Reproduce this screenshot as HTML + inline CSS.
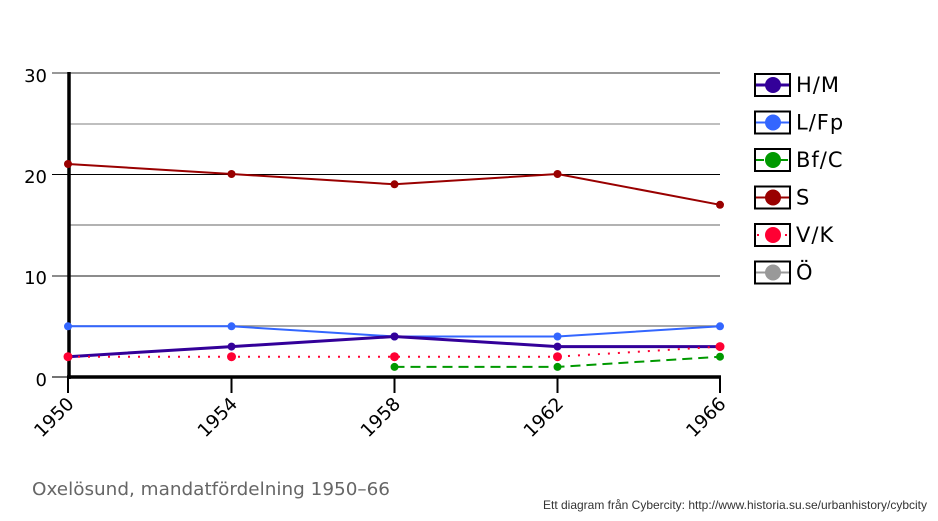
<!DOCTYPE html>
<html><head><meta charset="utf-8"><style>
html,body{margin:0;padding:0;background:#fff;width:938px;height:521px;overflow:hidden}
svg{display:block}
text{font-family:"DejaVu Sans","Liberation Sans",sans-serif}
</style></head><body>
<svg width="938" height="521" viewBox="0 0 938 521" xmlns="http://www.w3.org/2000/svg">
<!-- gridlines -->
<line x1="52" y1="73" x2="720" y2="73" stroke="#777" stroke-width="1.5"/>
<line x1="68" y1="124" x2="720" y2="124" stroke="#aaa" stroke-width="1.5"/>
<line x1="52" y1="174.5" x2="720" y2="174.5" stroke="#000" stroke-width="1"/>
<line x1="68" y1="225" x2="720" y2="225" stroke="#999" stroke-width="1.5"/>
<line x1="52" y1="276" x2="720" y2="276" stroke="#666" stroke-width="1.5"/>
<line x1="68" y1="326" x2="720" y2="326" stroke="#888" stroke-width="1.5"/>
<line x1="52" y1="377" x2="68" y2="377" stroke="#444" stroke-width="1.5"/>
<!-- axes -->
<line x1="69" y1="72" x2="69" y2="379" stroke="#000" stroke-width="3.5"/>
<line x1="67" y1="377" x2="721" y2="377" stroke="#000" stroke-width="3.5"/>
<g stroke="#000" stroke-width="2">
<line x1="68" y1="377" x2="68" y2="393"/>
<line x1="231.5" y1="377" x2="231.5" y2="393"/>
<line x1="394.5" y1="377" x2="394.5" y2="393"/>
<line x1="557.5" y1="377" x2="557.5" y2="393"/>
<line x1="720" y1="377" x2="720" y2="393"/>
</g>
<!-- y labels -->
<g font-size="18" text-anchor="end" fill="#000">
<text x="47" y="82">30</text>
<text x="47" y="183">20</text>
<text x="47" y="284">10</text>
<text x="47" y="386">0</text>
</g>
<!-- x labels -->
<g font-size="18.5" text-anchor="end" fill="#000">
<text transform="translate(75,405) rotate(-45)">1950</text>
<text transform="translate(238.5,405) rotate(-45)">1954</text>
<text transform="translate(401.5,405) rotate(-45)">1958</text>
<text transform="translate(564.5,405) rotate(-45)">1962</text>
<text transform="translate(727,405) rotate(-45)">1966</text>
</g>
<!-- S -->
<polyline points="68,164 231.5,174 394.5,184.3 557.5,174 720,204.8" fill="none" stroke="#990000" stroke-width="2"/>
<g fill="#990000"><circle cx="68" cy="164" r="4"/><circle cx="231.5" cy="174" r="4"/><circle cx="394.5" cy="184.3" r="4"/><circle cx="557.5" cy="174" r="4"/><circle cx="720" cy="204.8" r="4"/></g>
<!-- L/Fp -->
<polyline points="68,326.3 231.5,326.3 394.5,336.5 557.5,336.5 720,326.3" fill="none" stroke="#3366ff" stroke-width="2"/>
<g fill="#3366ff"><circle cx="68" cy="326.3" r="4"/><circle cx="231.5" cy="326.3" r="4"/><circle cx="394.5" cy="336.5" r="4"/><circle cx="557.5" cy="336.5" r="4"/><circle cx="720" cy="326.3" r="4"/></g>
<!-- H/M -->
<polyline points="68,356.7 231.5,346.6 394.5,336.5 557.5,346.6 720,346.6" fill="none" stroke="#330099" stroke-width="3"/>
<g fill="#330099"><circle cx="68" cy="356.7" r="4"/><circle cx="231.5" cy="346.6" r="4"/><circle cx="394.5" cy="336.5" r="4"/><circle cx="557.5" cy="346.6" r="4"/><circle cx="720" cy="346.6" r="4"/></g>
<!-- V/K -->
<polyline points="68,356.7 231.5,356.7 394.5,356.7 557.5,356.7 720,346.6" fill="none" stroke="#ff0033" stroke-width="2" stroke-dasharray="2,8"/>
<g fill="#ff0033"><circle cx="68" cy="356.7" r="4.5"/><circle cx="231.5" cy="356.7" r="4.5"/><circle cx="394.5" cy="356.7" r="4.5"/><circle cx="557.5" cy="356.7" r="4.5"/><circle cx="720" cy="346.6" r="4.5"/></g>
<!-- Bf/C -->
<polyline points="394.5,366.9 557.5,366.9 720,356.7" fill="none" stroke="#009900" stroke-width="2" stroke-dasharray="10,6"/>
<g fill="#009900"><circle cx="394.5" cy="366.9" r="4"/><circle cx="557.5" cy="366.9" r="4"/><circle cx="720" cy="356.7" r="4"/></g>
<!-- legend -->
<g stroke="#000" stroke-width="2" fill="#fff">
<rect x="755" y="74" width="35" height="22"/>
<rect x="755" y="111.5" width="35" height="22"/>
<rect x="755" y="149" width="35" height="22"/>
<rect x="755" y="186.5" width="35" height="22"/>
<rect x="755" y="224" width="35" height="22"/>
<rect x="755" y="261.5" width="35" height="22"/>
</g>
<line x1="756" y1="85" x2="789" y2="85" stroke="#330099" stroke-width="3"/><circle cx="773" cy="85" r="8" fill="#330099"/>
<line x1="756" y1="122.5" x2="789" y2="122.5" stroke="#3366ff" stroke-width="2"/><circle cx="773" cy="122.5" r="8" fill="#3366ff"/>
<line x1="756" y1="160" x2="789" y2="160" stroke="#009900" stroke-width="2" stroke-dasharray="8,4"/><circle cx="773" cy="160" r="8" fill="#009900"/>
<line x1="756" y1="197.5" x2="789" y2="197.5" stroke="#990000" stroke-width="2"/><circle cx="773" cy="197.5" r="8" fill="#990000"/>
<line x1="756" y1="235" x2="789" y2="235" stroke="#ff0033" stroke-width="2" stroke-dasharray="2,12" stroke-dashoffset="-1"/><circle cx="773" cy="235" r="8" fill="#ff0033"/>
<line x1="756" y1="272.5" x2="789" y2="272.5" stroke="#999" stroke-width="2"/><circle cx="773" cy="272.5" r="8" fill="#999"/>
<g font-size="21" fill="#000" letter-spacing="1">
<text x="796" y="92">H/M</text>
<text x="796" y="129.5">L/Fp</text>
<text x="796" y="167">Bf/C</text>
<text x="796" y="204.5">S</text>
<text x="796" y="242">V/K</text>
<text x="796" y="279.5">Ö</text>
</g>
<!-- title -->
<text x="32" y="495" font-size="18" fill="#666" textLength="358" lengthAdjust="spacingAndGlyphs">Oxelösund, mandatfördelning 1950–66</text>
<text x="543" y="509" font-size="12" fill="#333" style="font-family:'Liberation Sans',sans-serif" textLength="384" lengthAdjust="spacingAndGlyphs">Ett diagram från Cybercity: http://www.historia.su.se/urbanhistory/cybcity</text>
</svg>
</body></html>
